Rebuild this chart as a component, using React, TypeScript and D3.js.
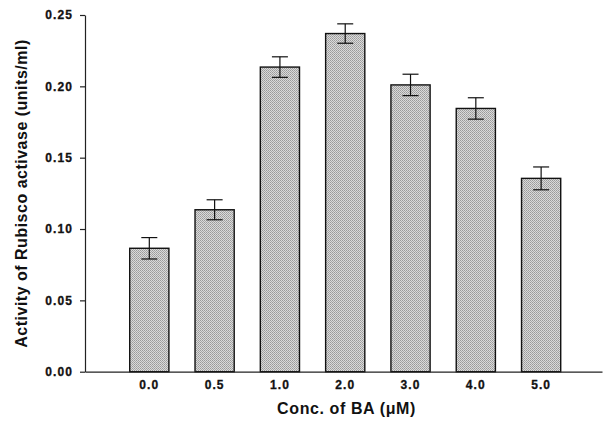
import * as d3 from "d3";
import React from "react";

// Rubisco activase activity vs. BA concentration
const concentrations = ["0.0", "0.5", "1.0", "2.0", "3.0", "4.0", "5.0"];
const activity = [0.0865, 0.1135, 0.2135, 0.237, 0.201, 0.1845, 0.1355];
const errors = [0.0075, 0.007, 0.0072, 0.0068, 0.0075, 0.0075, 0.008];
const yTicks = [0, 0.05, 0.1, 0.15, 0.2, 0.25];

const width = 605;
const height = 423;
const margin = { top: 15, right: 3, bottom: 51, left: 85 };

export const BarChart: React.FC = () => {
  const svgRef = React.useRef<SVGSVGElement | null>(null);

  React.useEffect(() => {
    const svgEl = d3.select(svgRef.current);
    svgEl.selectAll("*").remove();

    const x = d3
      .scaleBand<string>()
      .domain(concentrations)
      .range([margin.left, width - margin.right])
      .paddingInner(0.4)
      .paddingOuter(0.6585)
      .align(0.52);

    const y = d3
      .scaleLinear()
      .domain([0, 0.25])
      .range([height - margin.bottom - 0.3, margin.top]);

    // halftone-like fill, like the printed figure
    const defs = svgEl.append("defs");
    const pat = defs
      .append("pattern")
      .attr("id", "dots")
      .attr("width", 2)
      .attr("height", 2)
      .attr("patternUnits", "userSpaceOnUse");
    pat.append("rect").attr("width", 2).attr("height", 2).attr("fill", "#dadada");
    pat.append("rect").attr("width", 1).attr("height", 1).attr("fill", "#9a9a9a");
    pat.append("rect").attr("x", 1).attr("y", 1).attr("width", 1).attr("height", 1).attr("fill", "#a8a8a8");

    const rows = concentrations.map((c, i) => ({ c, v: activity[i], e: errors[i] }));

    // Bars
    svgEl
      .append("g")
      .selectAll("rect")
      .data(rows)
      .join("rect")
      .attr("x", (d) => x(d.c)!)
      .attr("y", (d) => y(d.v))
      .attr("width", x.bandwidth())
      .attr("height", (d) => y(0) - y(d.v))
      .attr("fill", "url(#dots)")
      .attr("stroke", "#111")
      .attr("stroke-width", 1.4);

    // Error bars
    const eb = svgEl
      .append("g")
      .attr("stroke", "#111")
      .attr("stroke-width", 1.2)
      .selectAll("g")
      .data(rows)
      .join("g")
      .attr("transform", (d) => `translate(${x(d.c)! + x.bandwidth() / 2},0)`);
    eb.append("line")
      .attr("y1", (d) => y(d.v - d.e))
      .attr("y2", (d) => y(d.v + d.e));
    eb.append("line")
      .attr("x1", -8)
      .attr("x2", 8)
      .attr("y1", (d) => y(d.v + d.e))
      .attr("y2", (d) => y(d.v + d.e));
    eb.append("line")
      .attr("x1", -8)
      .attr("x2", 8)
      .attr("y1", (d) => y(d.v - d.e))
      .attr("y2", (d) => y(d.v - d.e));

    const font = "Liberation Sans, Arial, sans-serif";

    // Y axis
    const yAxisGroup = svgEl
      .append("g")
      .attr("transform", `translate(${margin.left},0)`)
      .call(
        d3
          .axisLeft(y)
          .tickValues(yTicks)
          .tickSize(5)
          .tickSizeOuter(0)
          .tickPadding(7)
          .tickFormat(d3.format(".2f")),
      );
    yAxisGroup.selectAll("line, path").attr("stroke", "#222").attr("stroke-width", 1.2);
    yAxisGroup
      .selectAll("text")
      .attr("fill", "#111")
      .attr("stroke", "#111")
      .attr("stroke-width", 0.3)
      .attr("font-family", font)
      .attr("font-weight", "bold")
      .attr("font-size", 12)
      .attr("letter-spacing", 1.1);

    // X axis
    const xAxisGroup = svgEl
      .append("g")
      .attr("transform", `translate(0,${y(0)})`)
      .call(d3.axisBottom(x).tickSize(0).tickSizeOuter(0).tickPadding(9));
    xAxisGroup.select(".domain").attr("stroke", "#222").attr("stroke-width", 1.2);
    xAxisGroup
      .selectAll("text")
      .attr("fill", "#111")
      .attr("stroke", "#111")
      .attr("stroke-width", 0.3)
      .attr("font-family", font)
      .attr("font-weight", "bold")
      .attr("font-size", 12)
      .attr("letter-spacing", 1.1);

    // Axis titles
    svgEl
      .append("text")
      .attr("transform", "rotate(-90)")
      .attr("x", -193.5)
      .attr("y", 27)
      .attr("text-anchor", "middle")
      .attr("font-family", font)
      .attr("font-weight", "bold")
      .attr("font-size", 16)
      .attr("letter-spacing", 0.5)
      .attr("fill", "#111")
      .text("Activity of Rubisco activase (units/ml)");

    svgEl
      .append("text")
      .attr("x", 346.5)
      .attr("y", 414)
      .attr("text-anchor", "middle")
      .attr("font-family", font)
      .attr("font-weight", "bold")
      .attr("font-size", 16)
      .attr("letter-spacing", 0.6)
      .attr("fill", "#111")
      .text("Conc. of BA (\u03bcM)");
  }, []);

  return (
    <svg
      ref={svgRef}
      width={width}
      height={height}
      style={{ position: "absolute", left: 0, top: 0, background: "#fff" }}
    />
  );
};

export default function App() {
  return <BarChart />;
}
